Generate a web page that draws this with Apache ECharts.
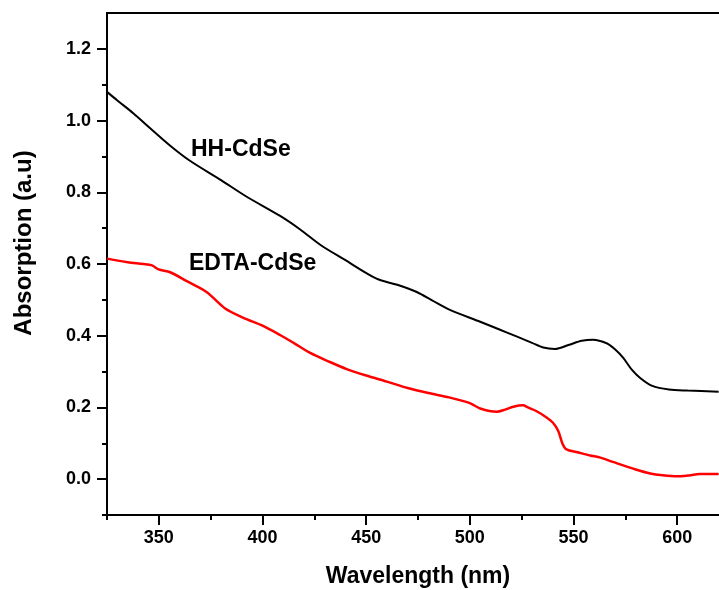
<!DOCTYPE html>
<html>
<head>
<meta charset="utf-8">
<script src="https://cdn.jsdelivr.net/npm/echarts@6/dist/echarts.min.js"></script>
<style>
html,body{margin:0;padding:0;background:#fff;}
#chart{width:719px;height:590px;}
</style>
</head>
<body>
<div id="chart"></div>
<script>
// ---- data ----
var hhWavelength = [325,330,337.8,345,355.5,365,380,392,408.5,418,428,439,455,465,474.4,482,490.4,505,514,522.5,530,535.4,541,548,554,559.4,566,570,574,578,582,588,596,605,620];
var hhAbsorption = [1.08,1.056,1.02,0.983,0.93,0.888,0.834,0.789,0.734,0.697,0.653,0.614,0.559,0.542,0.522,0.498,0.472,0.439,0.418,0.398,0.38,0.367,0.363,0.375,0.386,0.389,0.379,0.362,0.338,0.306,0.283,0.26,0.25,0.247,0.244];

var edtaWavelength = [325,335,342.6,346.7,349.9,355.5,363.5,373,382,390.8,400,408.5,415,423,432,440.6,450,460,470,480,490,500,505,513,517,521,525.7,528,532,537,540,542.6,544.7,546.6,552,558,563,569,580,587,593,600,605,611,620];
var edtaAbsorption = [0.615,0.605,0.600,0.596,0.585,0.577,0.552,0.522,0.476,0.450,0.428,0.402,0.38,0.352,0.328,0.307,0.289,0.272,0.254,0.24,0.228,0.212,0.197,0.188,0.194,0.202,0.206,0.2,0.19,0.172,0.158,0.135,0.099,0.083,0.075,0.066,0.06,0.048,0.027,0.016,0.011,0.008,0.01,0.014,0.014];

var xMajorTicks = [350,400,450,500,550,600];
var xMinorTicks = [325,375,425,475,525,575,625];
var yMajorTicks = [0.0,0.2,0.4,0.6,0.8,1.0,1.2];
var yMinorTicks = [-0.1,0.1,0.3,0.5,0.7,0.9,1.1];

var seriesNames = ['HH-CdSe','EDTA-CdSe'];

function zip(a,b){ return a.map(function(v,i){ return [v,b[i]]; }); }

var FONT = 'Liberation Sans, Arial, Helvetica, sans-serif';
var chart = echarts.init(document.getElementById('chart'), null, {renderer:'canvas'});

var xMin = 325, xMax = 625, yMin = -0.1, yMax = 1.3;

var option = {
  backgroundColor:'#fff',
  animation:false,
  grid:{left:107, top:13, width:622, height:502, outerBoundsMode:'none', show:true, borderColor:'#000', borderWidth:2, backgroundColor:'transparent', containLabel:false},
  xAxis:[
    {
      type:'value', min:xMin, max:xMax, position:'bottom', splitLine:{show:false},
      name:'Wavelength (nm)', nameLocation:'middle', nameGap:50,
      nameTextStyle:{fontFamily:FONT, fontWeight:'bold', fontSize:23, color:'#000'},
      axisLine:{show:true, onZero:false, lineStyle:{color:'#000', width:2}},
      axisTick:{show:true, length:10, lineStyle:{color:'#000', width:2}, customValues:xMajorTicks},
      axisLabel:{show:true, margin:14, fontFamily:FONT, fontWeight:'bold', fontSize:18, color:'#000', customValues:xMajorTicks}
    },
    {
      type:'value', min:xMin, max:xMax, position:'bottom', splitLine:{show:false},
      axisLine:{show:false, onZero:false},
      axisTick:{show:true, length:5, lineStyle:{color:'#000', width:2}, customValues:xMinorTicks},
      axisLabel:{show:false}
    }
  ],
  yAxis:[
    {
      type:'value', min:yMin, max:yMax, position:'left', splitLine:{show:false},
      name:'Absorption (a.u)', nameLocation:'middle', nameGap:71,
      nameTextStyle:{fontFamily:FONT, fontWeight:'bold', fontSize:24, color:'#000', padding:[0,0,0,42]},
      axisLine:{show:true, onZero:false, lineStyle:{color:'#000', width:2}},
      axisTick:{show:true, length:10, lineStyle:{color:'#000', width:2}, customValues:yMajorTicks},
      axisLabel:{show:true, margin:16, fontFamily:FONT, fontWeight:'bold', fontSize:18, color:'#000', customValues:yMajorTicks,
        formatter:function(v){ return v.toFixed(1); }}
    },
    {
      type:'value', min:yMin, max:yMax, position:'left', splitLine:{show:false},
      axisLine:{show:false, onZero:false},
      axisTick:{show:true, length:5, lineStyle:{color:'#000', width:2}, customValues:yMinorTicks},
      axisLabel:{show:false}
    }
  ],
  series:[
    {name:seriesNames[0], type:'line', xAxisIndex:0, yAxisIndex:0, data:zip(hhWavelength,hhAbsorption),
     showSymbol:false, smooth:0.3, lineStyle:{color:'#000', width:2}, clip:true},
    {name:seriesNames[1], type:'line', xAxisIndex:0, yAxisIndex:0, data:zip(edtaWavelength,edtaAbsorption),
     showSymbol:false, smooth:0.3, lineStyle:{color:'#ff0000', width:2.5}, clip:true}
  ],
  graphic:[
    {type:'text', left:191, top:138, style:{text:seriesNames[0], fontFamily:FONT, fontWeight:'bold', fontSize:23, fill:'#000'}},
    {type:'text', left:189, top:252, style:{text:seriesNames[1], fontFamily:FONT, fontWeight:'bold', fontSize:23, fill:'#000'}}
  ]
};
chart.setOption(option);
</script>
</body>
</html>
